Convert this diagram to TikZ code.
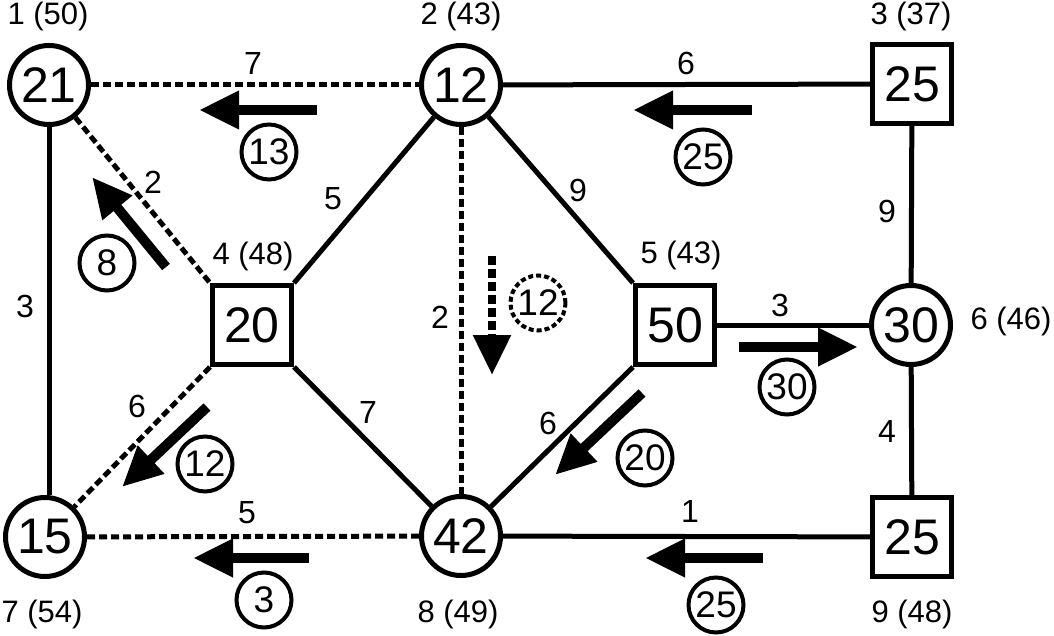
\documentclass[tikz,border=0pt]{standalone}
\usepackage{fontspec}
\setmainfont{Liberation Sans}
\usetikzlibrary{arrows.meta}
\begin{document}
\begin{tikzpicture}[x=1pt,y=-1pt,
  big/.style={draw,circle,line width=5pt,minimum size=79pt,inner sep=0pt,fill=white,font=\fontsize{50}{50}\selectfont},
  sq/.style={draw,rectangle,line width=5pt,minimum size=79pt,inner sep=0pt,fill=white,font=\fontsize{50}{50}\selectfont},
  flowc/.style={draw,circle,line width=4pt,minimum size=55pt,inner sep=0pt,font=\fontsize{37}{37}\selectfont},
  dflowc/.style={flowc,dash pattern=on 5pt off 3pt},
  edge/.style={line width=5pt},
  dedge/.style={line width=5pt,dash pattern=on 8pt off 4pt},
  lbl/.style={inner sep=0pt,font=\fontsize{32}{32}\selectfont},
  nlbl/.style={inner sep=0pt,anchor=base,font=\fontsize{31}{31}\selectfont},
  flow/.style={line width=10pt,-{Triangle[length=40pt,width=36pt]}},
  dflow/.style={flow,line width=8.5pt,dash pattern=on 9pt off 4pt},
]
\useasboundingbox (0,0) rectangle (1054,636);

% main nodes
\node[big] (n1) at (49,85) {21};
\node[big] (n2) at (461,85) {12};
\node[sq]  (n3) at (912,84) {25};
\node[sq]  (n4) at (252,325) {20};
\node[sq]  (n5) at (675,325) {50};
\node[big] (n6) at (911,325) {30};
\node[big] (n7) at (45,537) {15};
\node[big] (n8) at (461,536) {42};
\node[sq]  (n9) at (912,537) {25};

% edges
\draw[dedge] (n1) -- (n2);
\draw[edge]  (n2) -- (n3);
\draw[edge]  (n1.south) -- (n1.south |- n7.north);
\draw[dedge] (n1) -- (n4.north west);
\draw[edge]  (n2) -- (n4.north east);
\draw[edge]  (n2) -- (n5.north west);
\draw[dedge] (n2) -- (n8);
\draw[edge]  (n3) -- (n6);
\draw[edge]  (n5) -- (n6);
\draw[dedge] (n4.south west) -- (n7);
\draw[edge]  (n4.south east) -- (n8);
\draw[edge]  (n5.south west) -- (n8);
\draw[edge]  (n6) -- (n9);
\draw[dedge] (n8) -- (n7);
\draw[edge]  (n9) -- (n8);

% node labels
\node[nlbl] (l1) at (48,25) {1 (50)};
\node[nlbl] (l2) at (461,25) {2 (43)};
\node[nlbl] (l3) at (911,25) {3 (37)};
\node[nlbl] (l4) at (253,265) {4 (48)};
\node[nlbl] (l5) at (681,263) {5 (43)};
\node[nlbl] (l6) at (1011,329) {6 (46)};
\node[nlbl] (l7) at (42,622) {7 (54)};
\node[nlbl] (l8) at (458,622) {8 (49)};
\node[nlbl] (l9) at (912,622) {9 (48)};

% edge labels
\node[lbl] (e12) at (253,63) {7};
\node[lbl] (e23) at (686,63) {6};
\node[lbl] (e36) at (887,211) {9};
\node[lbl] (e24) at (333,199) {5};
\node[lbl] (e14) at (153,182) {2};
\node[lbl] (e17) at (25,306) {3};
\node[lbl] (e28) at (440,317) {2};
\node[lbl] (e25) at (578,190) {9};
\node[lbl] (e56) at (780,305) {3};
\node[lbl] (e47) at (137,406) {6};
\node[lbl] (e48) at (368,412) {7};
\node[lbl] (e58) at (548,423) {6};
\node[lbl] (e69) at (887,431) {4};
\node[lbl] (e78) at (247,513) {5};
\node[lbl] (e89) at (690,511) {1};

% flow arrows
\coordinate (a1s) at (317,110); \coordinate (a1e) at (199,110);
\coordinate (a2s) at (752,110); \coordinate (a2e) at (633,110);
\coordinate (a3s) at (166,267); \coordinate (a3e) at (92,177);
\coordinate (a4s) at (492,256); \coordinate (a4e) at (492,375);
\coordinate (a5s) at (739,347); \coordinate (a5e) at (858,347);
\coordinate (a6s) at (642,393); \coordinate (a6e) at (555,475);
\coordinate (a7s) at (207,407); \coordinate (a7e) at (122,487);
\coordinate (a8s) at (309,558); \coordinate (a8e) at (193,558);
\coordinate (a9s) at (763,558); \coordinate (a9e) at (645,558);
\draw[flow]  (a1s) -- (a1e);
\draw[flow]  (a2s) -- (a2e);
\draw[flow]  (a3s) -- (a3e);
\draw[dflow] (a4s) -- (a4e);
\draw[flow]  (a5s) -- (a5e);
\draw[flow]  (a6s) -- (a6e);
\draw[flow]  (a7s) -- (a7e);
\draw[flow]  (a8s) -- (a8e);
\draw[flow]  (a9s) -- (a9e);

% flow values
\node[flowc]  (f1) at (269,152) {13};
\node[flowc]  (f2) at (703,157) {25};
\node[flowc]  (f3) at (107,263) {8};
\node[dflowc] (f4) at (538,303) {12};
\node[flowc]  (f5) at (787,387) {30};
\node[flowc]  (f6) at (645,458) {20};
\node[flowc]  (f7) at (205,464) {12};
\node[flowc]  (f8) at (264,600) {3};
\node[flowc]  (f9) at (716,605) {25};
\end{tikzpicture}
\end{document}
